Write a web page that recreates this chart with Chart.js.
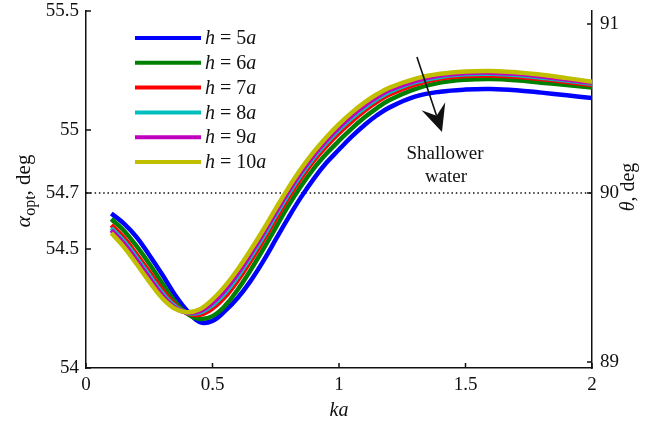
<!DOCTYPE html>
<html>
<head>
<meta charset="utf-8">
<script src="https://cdn.jsdelivr.net/npm/chart.js@4.4.0/dist/chart.umd.min.js"></script>
<style>
  html, body { margin: 0; padding: 0; background: #fff; }
  #wrap { width: 649px; height: 426px; }
</style>
</head>
<body>
<div id="wrap"><canvas id="chart" width="649" height="426"></canvas></div>
<script>
// optimal angle vs ka for several water depths; theta on the right axis
const MAGIC = 54.7356;
const SERIF = '"Liberation Serif", "Times New Roman", serif';
const INK = '#111';

const ka = [0.10, 0.15, 0.20, 0.25, 0.30, 0.35, 0.40, 0.45, 0.50, 0.55, 0.60, 0.65,
  0.70, 0.75, 0.80, 0.85, 0.90, 0.95, 1.00, 1.05, 1.10, 1.15, 1.20,
  1.3, 1.4, 1.5, 1.6, 1.7, 1.8, 1.9, 2.0];

const h5 = [54.649, 54.607, 54.550, 54.475, 54.395, 54.310, 54.240, 54.193, 54.198, 54.240, 54.295, 54.365,
  54.448, 54.540, 54.632, 54.718, 54.795, 54.862, 54.918, 54.972, 55.020, 55.062, 55.095,
  55.140, 55.161, 55.170, 55.172, 55.167, 55.157, 55.146, 55.134];
const h6 = [54.626, 54.577, 54.512, 54.438, 54.358, 54.282, 54.228, 54.206, 54.218, 54.262, 54.330, 54.410,
  54.498, 54.590, 54.682, 54.765, 54.838, 54.900, 54.955, 55.006, 55.052, 55.092, 55.126,
  55.172, 55.199, 55.211, 55.214, 55.209, 55.199, 55.189, 55.178];
const h7 = [54.600, 54.547, 54.478, 54.404, 54.330, 54.268, 54.230, 54.224, 54.250, 54.299, 54.368, 54.448,
  54.535, 54.626, 54.716, 54.797, 54.870, 54.932, 54.987, 55.036, 55.080, 55.118, 55.149,
  55.191, 55.216, 55.227, 55.229, 55.224, 55.214, 55.202, 55.189];
const h8 = [54.588, 54.533, 54.463, 54.389, 54.317, 54.261, 54.232, 54.233, 54.264, 54.316, 54.385, 54.465,
  54.551, 54.642, 54.731, 54.812, 54.884, 54.946, 55.001, 55.050, 55.093, 55.130, 55.160,
  55.200, 55.223, 55.234, 55.236, 55.231, 55.220, 55.208, 55.194];
const h9 = [54.579, 54.522, 54.452, 54.378, 54.307, 54.255, 54.233, 54.239, 54.274, 54.328, 54.398, 54.478,
  54.564, 54.654, 54.742, 54.823, 54.894, 54.956, 55.011, 55.060, 55.102, 55.138, 55.168,
  55.206, 55.229, 55.239, 55.241, 55.236, 55.225, 55.212, 55.198];
const h10 = [54.567, 54.508, 54.437, 54.363, 54.295, 54.250, 54.234, 54.247, 54.288, 54.345, 54.415, 54.495,
  54.580, 54.670, 54.757, 54.837, 54.908, 54.970, 55.025, 55.073, 55.115, 55.150, 55.178,
  55.215, 55.236, 55.246, 55.248, 55.243, 55.232, 55.218, 55.203];

const depths = ['5', '6', '7', '8', '9', '10'];
const seriesValues = [h5, h6, h7, h8, h9, h10];
const seriesColors = ['#0000ff', '#008000', '#ff0000', '#00bfbf', '#bf00bf', '#bfbf00'];

const kaTicks = [0, 0.5, 1, 1.5, 2];
const alphaTicks = [54, 54.5, MAGIC, 55, 55.5];
const thetaTicks = [89, 90, 91];

const TICK = 5;

// draws a run of differently styled text pieces, centred on x or starting at it
function drawRuns(ctx, runs, x, y, align = 'center') {
  let total = 0;
  runs.forEach(r => { ctx.font = r.font; total += ctx.measureText(r.text).width; });
  let cx = align === 'center' ? x - total / 2 : x;
  runs.forEach(r => {
    ctx.font = r.font;
    ctx.fillText(r.text, cx, y + (r.dy || 0));
    cx += ctx.measureText(r.text).width;
  });
}

const roman = size => `${size}px ${SERIF}`;
const italic = size => `italic ${size}px ${SERIF}`;

// fixed box for the vertical axes so the plot area lands where we want it
function fitVertical(width) {
  return scale => {
    scale.width = width;
    scale.paddingTop = 11;
    scale.paddingBottom = 0;
  };
}

const decorations = {
  id: 'decorations',
  beforeDatasetsDraw(chart) {
    const { ctx, chartArea: a, scales } = chart;
    const py = scales.y.getPixelForValue(MAGIC);
    ctx.save();
    ctx.strokeStyle = INK;
    ctx.lineWidth = 1.5;
    ctx.setLineDash([1.5, 2.8]);
    ctx.beginPath();
    ctx.moveTo(a.left, py);
    ctx.lineTo(a.right, py);
    ctx.stroke();
    ctx.restore();
  },
  afterDraw(chart) {
    const { ctx, chartArea: a, scales } = chart;
    ctx.save();

    // inward tick marks
    ctx.strokeStyle = INK;
    ctx.lineWidth = 1.5;
    ctx.beginPath();
    scales.y.ticks.forEach(t => {
      const py = scales.y.getPixelForValue(t.value);
      ctx.moveTo(a.left, py); ctx.lineTo(a.left + TICK, py);
    });
    scales.y1.ticks.forEach(t => {
      const py = scales.y1.getPixelForValue(t.value);
      ctx.moveTo(a.right, py); ctx.lineTo(a.right - TICK, py);
    });
    scales.x.ticks.forEach(t => {
      const px = scales.x.getPixelForValue(t.value);
      ctx.moveTo(px, a.bottom); ctx.lineTo(px, a.bottom - TICK);
    });
    ctx.stroke();

    // legend
    ctx.textBaseline = 'middle';
    ctx.fillStyle = INK;
    chart.data.datasets.forEach((ds, i) => {
      const y = a.top + 27 + i * 24.8;
      ctx.strokeStyle = ds.borderColor;
      ctx.lineWidth = 4;
      ctx.beginPath();
      ctx.moveTo(a.left + 49, y);
      ctx.lineTo(a.left + 115, y);
      ctx.stroke();
      drawRuns(ctx, [
        { text: 'h', font: italic(20) },
        { text: ' = ' + depths[i], font: roman(20) },
        { text: 'a', font: italic(20) }
      ], a.left + 119, y + 1, 'left');
    });

    // arrow pointing towards shallower water
    const x0 = scales.x.getPixelForValue(1.308), y0 = scales.y.getPixelForValue(55.307);
    const x1 = scales.x.getPixelForValue(1.407), y1 = scales.y.getPixelForValue(54.992);
    const ang = Math.atan2(y1 - y0, x1 - x0);
    const len = 27, half = 12.5, notch = 17;
    const bx = x1 - len * Math.cos(ang), by = y1 - len * Math.sin(ang);
    const nx = x1 - notch * Math.cos(ang), ny = y1 - notch * Math.sin(ang);
    ctx.strokeStyle = INK;
    ctx.lineWidth = 1.6;
    ctx.beginPath();
    ctx.moveTo(x0, y0);
    ctx.lineTo(nx, ny);
    ctx.stroke();
    ctx.fillStyle = INK;
    ctx.beginPath();
    ctx.moveTo(x1, y1);
    ctx.lineTo(bx - half * Math.sin(ang), by + half * Math.cos(ang));
    ctx.lineTo(nx, ny);
    ctx.lineTo(bx + half * Math.sin(ang), by - half * Math.cos(ang));
    ctx.closePath();
    ctx.fill();

    ctx.textAlign = 'center';
    ctx.font = roman(19);
    ctx.fillText('Shallower', scales.x.getPixelForValue(1.419), scales.y.getPixelForValue(54.899));
    ctx.fillText('water', scales.x.getPixelForValue(1.423), scales.y.getPixelForValue(54.803));
    ctx.textAlign = 'left';

    // axis titles
    ctx.textBaseline = 'alphabetic';
    drawRuns(ctx, [
      { text: 'k', font: italic(20) },
      { text: 'a', font: italic(20) }
    ], (a.left + a.right) / 2, 416);

    ctx.save();
    ctx.translate(30, 191);
    ctx.rotate(-Math.PI / 2);
    drawRuns(ctx, [
      { text: 'α', font: italic(22) },
      { text: 'opt', font: roman(16), dy: 5 },
      { text: ', deg', font: roman(21) }
    ], 0, 0);
    ctx.restore();

    ctx.save();
    ctx.translate(634, 187);
    ctx.rotate(-Math.PI / 2);
    drawRuns(ctx, [
      { text: 'θ', font: italic(20) },
      { text: ', deg', font: roman(20) }
    ], 0, 0);
    ctx.restore();

    ctx.restore();
  }
};

const datasets = seriesValues.map((vals, i) => ({
  label: `h = ${depths[i]}a`,
  data: ka.map((x, j) => ({ x, y: vals[j] })),
  borderColor: seriesColors[i],
  borderWidth: 4.5,
  pointRadius: 0,
  tension: 0.4,
  fill: false,
  order: seriesValues.length - i
}));

const tickFont = { family: SERIF, size: 19 };

new Chart(document.getElementById('chart'), {
  type: 'line',
  data: { datasets },
  options: {
    responsive: false,
    animation: false,
    devicePixelRatio: 1,
    layout: { padding: 0 },
    plugins: { legend: { display: false }, tooltip: { enabled: false } },
    scales: {
      x: {
        type: 'linear',
        min: 0,
        max: 2,
        afterBuildTicks: scale => { scale.ticks = kaTicks.map(value => ({ value })); },
        afterFit: scale => { scale.height = 58; scale.paddingLeft = 0; scale.paddingRight = 0; },
        grid: { display: false, drawTicks: false },
        border: { display: true, color: INK, width: 1.5 },
        ticks: { color: INK, font: tickFont, padding: 6, maxRotation: 0, callback: v => String(v) }
      },
      y: {
        position: 'left',
        min: 54,
        max: 55.5,
        afterBuildTicks: scale => { scale.ticks = alphaTicks.map(value => ({ value })); },
        afterFit: fitVertical(86),
        grid: { display: false, drawTicks: false },
        border: { display: true, color: INK, width: 1.5 },
        ticks: { color: INK, font: tickFont, padding: 7, callback: v => (v === MAGIC ? '54.7' : String(v)) }
      },
      y1: {
        position: 'right',
        min: 88.9645,
        max: 91.077,
        afterBuildTicks: scale => { scale.ticks = thetaTicks.map(value => ({ value })); },
        afterFit: fitVertical(57),
        grid: { display: false, drawTicks: false },
        border: { display: true, color: INK, width: 1.5 },
        ticks: { color: INK, font: tickFont, padding: 8, callback: v => String(v) }
      }
    }
  },
  plugins: [decorations]
});
</script>
</body>
</html>
